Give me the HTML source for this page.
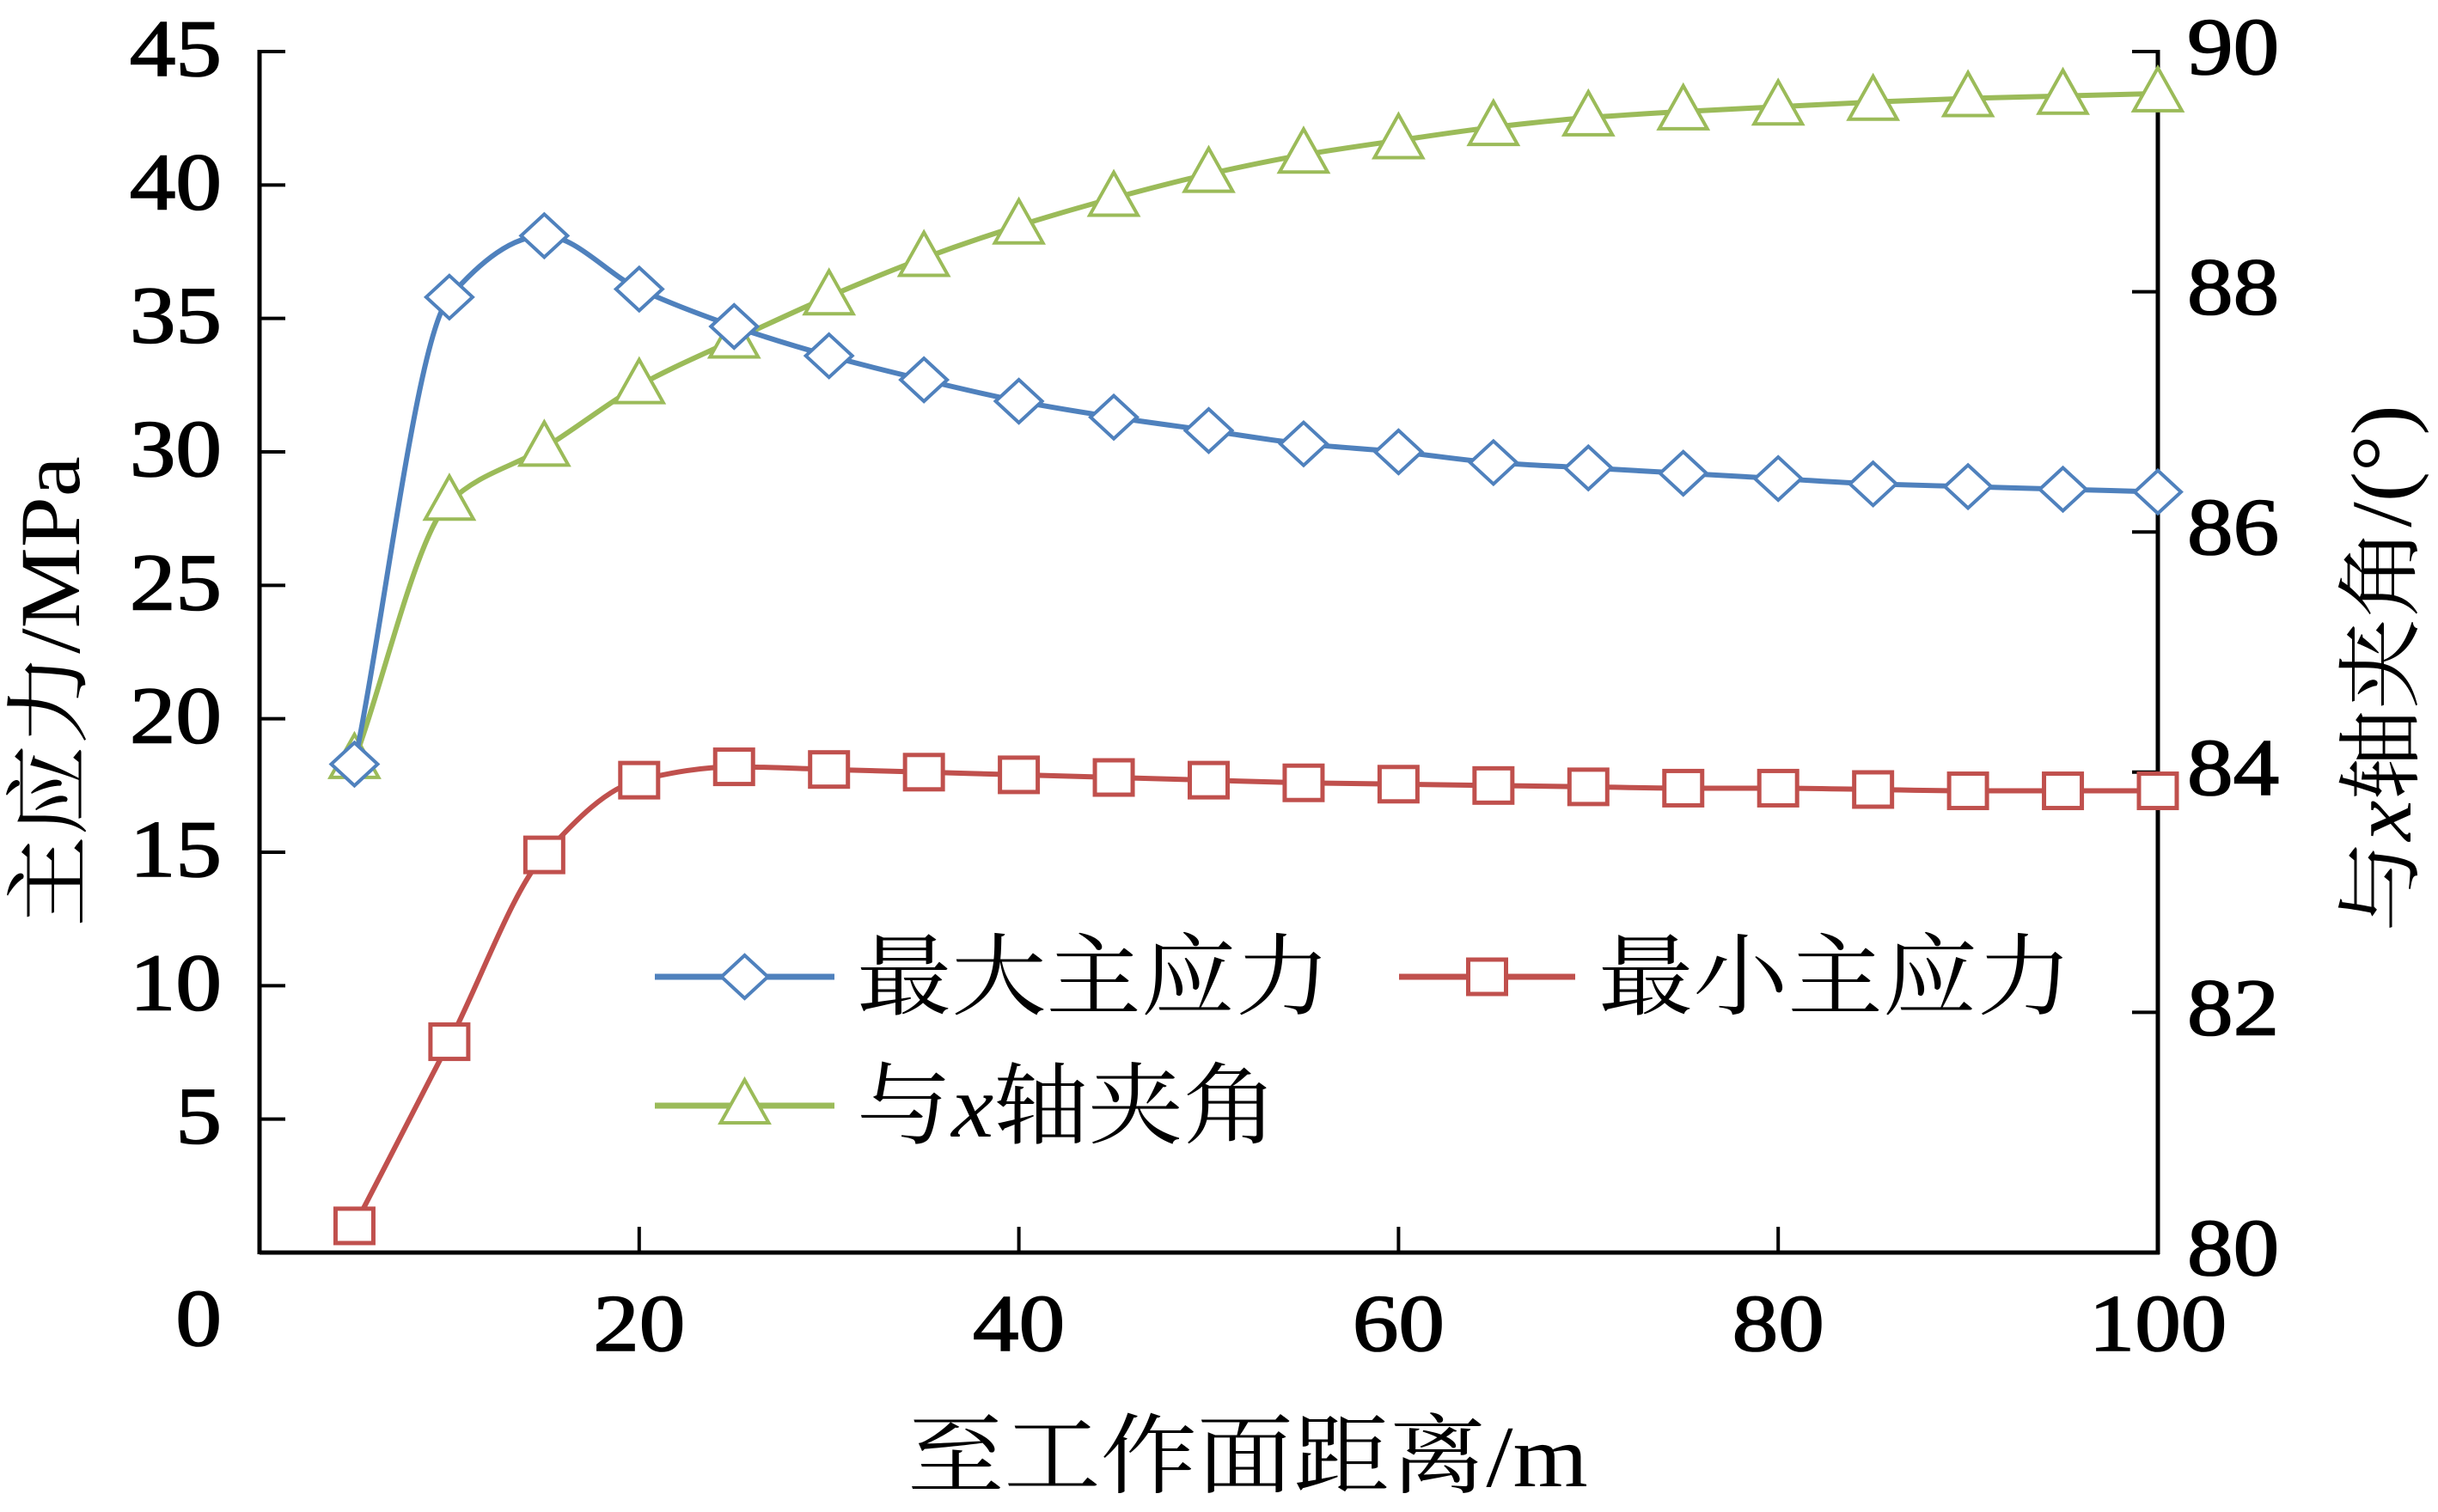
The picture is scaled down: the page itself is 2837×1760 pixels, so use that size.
<!DOCTYPE html>
<html><head><meta charset="utf-8"><style>
html,body{margin:0;padding:0;background:#fff;}
svg{display:block;}
text{font-family:"Liberation Serif","Noto Serif CJK SC",serif;fill:#000;}
.num{stroke:#000;stroke-width:1.6;}
</style></head><body>
<svg id="chart" width="2837" height="1760" viewBox="0 0 2837 1760" xmlns="http://www.w3.org/2000/svg">
<g id="axes"></g>
<g id="series"></g>
<g id="legend"></g>
</svg>
<script>
const distances = [5,10,15,20,25,30,35,40,45,50,55,60,65,70,75,80,85,90,95,100];
const maxStress = [18.3,35.8,38.1,36.1,34.7,33.6,32.7,31.9,31.3,30.8,30.3,30.0,29.6,29.4,29.2,29.0,28.8,28.7,28.6,28.5];
const minStress = [1.0,7.9,14.9,17.7,18.2,18.1,18.0,17.9,17.8,17.7,17.6,17.55,17.5,17.45,17.4,17.4,17.35,17.3,17.3,17.3];
const angleX = [84.1,86.25,86.7,87.22,87.6,87.96,88.28,88.55,88.78,88.98,89.14,89.26,89.37,89.45,89.5,89.54,89.58,89.61,89.63,89.65];
const leftTicks = [0,5,10,15,20,25,30,35,40,45];
const rightTicks = [80,82,84,86,88,90];
const xTicks = [0,20,40,60,80,100];

const NS='http://www.w3.org/2000/svg';
const X0=302,X1=2511,Y0=1458,Y1=60;
const xs=v=>X0+(v-0)/(100-0)*(X1-X0);
const yl=v=>Y0-(v-0)/(45-0)*(Y0-Y1);
const yr=v=>Y0-(v-80)/(90-80)*(Y0-Y1);
function mk(tag,attrs,parent,txt){const e=document.createElementNS(NS,tag);for(const k in attrs)e.setAttribute(k,attrs[k]);if(txt!==undefined)e.textContent=txt;parent.appendChild(e);return e;}
function num(x,y,anchor,txt,name){
  const t=mk('text',{x:0,y:0,'text-anchor':anchor,'font-size':94,class:'num',transform:`translate(${x},${y}) scale(1.14,1)`},axes,txt);
  
  
  return t;
}
const axes=document.getElementById('axes'),series=document.getElementById('series'),legend=document.getElementById('legend');

let e;
e=mk('line',{x1:X0,y1:Y1-2,x2:X0,y2:Y0+2,stroke:'#000','stroke-width':5},axes);


e=mk('line',{x1:X1,y1:Y1-2,x2:X1,y2:Y0+2,stroke:'#000','stroke-width':5},axes);


e=mk('line',{x1:X0,y1:Y0,x2:X1+2,y2:Y0,stroke:'#000','stroke-width':5},axes);



leftTicks.forEach(t=>{
  const y=yl(t);
  if(t>0){e=mk('line',{x1:X0,y1:y,x2:X0+30,y2:y,stroke:'#000','stroke-width':4},axes);
  
  }
  num(258,(t===0?yl(0)+108:y+28),'end',String(t),'left-tick-label');
});
rightTicks.forEach(t=>{
  const y=yr(t);
  e=mk('line',{x1:X1-30,y1:y,x2:X1,y2:y,stroke:'#000','stroke-width':4},axes);
  
  
  num(2545,y+26,'start',String(t),'right-tick-label');
});
xTicks.forEach(t=>{
  const x=xs(t);
  if(t>0&&t<100){e=mk('line',{x1:x,y1:Y0-30,x2:x,y2:Y0,stroke:'#000','stroke-width':4},axes);
  
  }
  if(t>0) num(x,1572,'middle',String(t),'x-tick-label');
});
e=mk('text',{x:0,y:0,'text-anchor':'middle','font-size':102,transform:'translate(1452,1730) scale(1.1,1)'},axes,'至工作面距离/m');


e=mk('text',{x:0,y:0,'text-anchor':'middle','font-size':100,transform:'translate(92,805) rotate(-90) scale(1.06,1)'},axes,'主应力/MPa');


e=mk('text',{x:0,y:0,'text-anchor':'middle','font-size':100,transform:'translate(2805,778) rotate(-90) scale(1.06,1)'},axes);


e.innerHTML='与<tspan font-style="italic">x</tspan>轴夹角/(°)';

function spline(pts){
  const n=pts.length,m=[],d=[];
  for(let i=0;i<n-1;i++) d.push((pts[i+1][1]-pts[i][1])/(pts[i+1][0]-pts[i][0]));
  for(let i=0;i<n;i++){
    if(i===0) m.push(d[0]); else if(i===n-1) m.push(d[n-2]);
    else if(d[i-1]*d[i]<=0) m.push(0);
    else { const a=d[i-1],b=d[i]; m.push(2*a*b/(a+b)); }
  }
  let s=`M${pts[0][0]},${pts[0][1]}`;
  for(let i=0;i<n-1;i++){
    const h=(pts[i+1][0]-pts[i][0])/3;
    s+=` C${pts[i][0]+h},${pts[i][1]+m[i]*h} ${pts[i+1][0]-h},${pts[i+1][1]-m[i+1]*h} ${pts[i+1][0]},${pts[i+1][1]}`;
  }
  return s;
}
function marker(type,x,y,color,parent,name){
  let m;
  if(type==='diamond') m=mk('polygon',{points:`${x},${y-25} ${x+27},${y} ${x},${y+25} ${x-27},${y}`,fill:'#fff',stroke:color,'stroke-width':4},parent);
  else if(type==='square') m=mk('rect',{x:x-22,y:y-20,width:44,height:40,fill:'#fff',stroke:color,'stroke-width':5},parent);
  else m=mk('polygon',{points:`${x},${y-30} ${x+28},${y+20} ${x-28},${y+20}`,fill:'#fff',stroke:color,'stroke-width':4},parent);
  
  
}
function drawSeries(vals,yf,color,type,name){
  const g=mk('g',{},series);
  
  
  const pts=vals.map((v,i)=>[xs(distances[i]),yf(v)]);
  const p=mk('path',{d:spline(pts),fill:'none',stroke:color,'stroke-width':6},g);
  
  
  pts.forEach(pt=>marker(type,pt[0],pt[1],color,g,name+'-marker'));
}
drawSeries(angleX,yr,'#9BBB59','triangle','angle');
drawSeries(minStress,yl,'#C0504D','square','min-stress');
drawSeries(maxStress,yl,'#4F81BD','diamond','max-stress');

function legendEntry(x1,x2,y,color,type,label,tx,name){
  const g=mk('g',{},legend);
  
  
  const l=mk('line',{x1:x1,y1:y,x2:x2,y2:y,stroke:color,'stroke-width':7},g);
  
  
  marker(type,(x1+x2)/2,y,color,g,name+'-marker');
  const t=mk('text',{x:0,y:0,'font-size':104,transform:`translate(${tx},${y+36}) scale(1.06,1)`},g);
  t.innerHTML=label;
  
  
}
legendEntry(762,971,1137,'#4F81BD','diamond','最大主应力',997,'legend-max-stress');
legendEntry(1628,1833,1137,'#C0504D','square','最小主应力',1860,'legend-min-stress');
legendEntry(762,971,1287,'#9BBB59','triangle','与<tspan font-family="Liberation Serif" font-style="italic">x</tspan>轴夹角',997,'legend-angle');
</script>
</body></html>
